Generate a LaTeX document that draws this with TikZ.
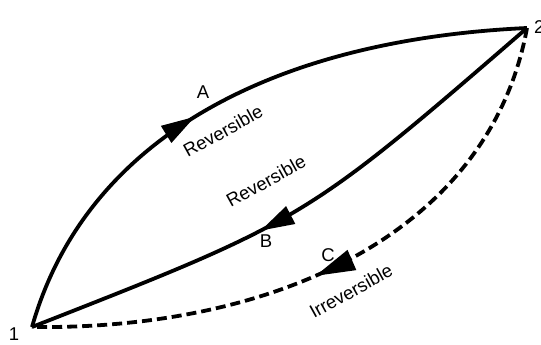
\documentclass[tikz,border=0pt]{standalone}
\usepackage{fontspec}
\setmainfont{Liberation Sans}
\usetikzlibrary{arrows.meta,decorations.markings}
\tikzset{
  pathline/.style={line width=3.8pt},
  midarrow/.style={postaction={decorate,decoration={markings,mark=at position #1 with {\arrow[solid]{Triangle[length=34pt,width=19pt]}}}}},
  bigarrow/.style={postaction={decorate,decoration={markings,mark=at position #1 with {\arrow[solid]{Triangle[length=40pt,width=21pt]}}}}},
  lbl/.style={font=\fontsize{18.5}{20}\selectfont, inner sep=1pt}
}
\begin{document}
\begin{tikzpicture}[x=1pt,y=-1pt]
\useasboundingbox (0,0) rectangle (541,345);
\coordinate (p1) at (32,327);
\coordinate (p2) at (527,28);
\node[lbl] (n1) at (14,334) {1};
\node[lbl,anchor=west] (n2) at (533,27) {2};
% A
\draw[pathline,midarrow=0.44] (p1) .. controls (85,140) and (270,40) .. (p2);
% B
\draw[pathline,midarrow=0.575] (p2) .. controls (305,220) .. (p1);
% C
\draw[pathline,dashed,dash pattern=on 10pt off 5pt,bigarrow=0.54] (p2) .. controls (490,230) and (280,330) .. (p1);
\node[lbl] (lA) at (203,92) {A};
\node[lbl,rotate=29] (rA) at (223,131) {Reversible};
\node[lbl,rotate=29] (rB) at (266,181) {Reversible};
\node[lbl] (lB) at (266,241) {B};
\node[lbl] (lC) at (328,255) {C};
\node[lbl,rotate=29] (rC) at (351,291) {Irreversible};
\end{tikzpicture}
\end{document}
